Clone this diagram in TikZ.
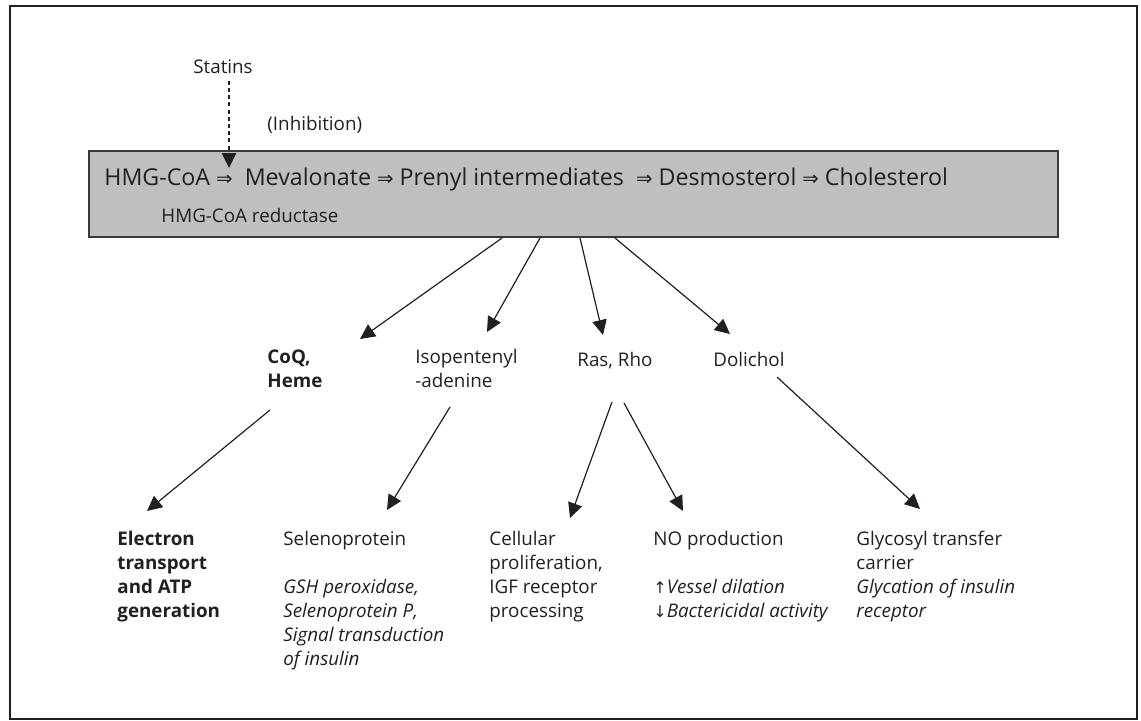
\documentclass[tikz,border=0pt]{standalone}
\usepackage{fontspec}
\setmainfont{Open Sans}
\newfontfamily\arrowfont{DejaVu Sans}[Scale=0.85]
\usepackage{tikz}
\usetikzlibrary{arrows.meta, calc}
\definecolor{ink}{HTML}{231F20}
\definecolor{boxgray}{HTML}{BEBFC1}
\definecolor{boxline}{HTML}{3A3A3A}

\newcommand{\yields}{{\arrowfont ⇒}}
\newcommand{\up}{{\arrowfont ↑}}
\newcommand{\down}{{\arrowfont ↓}}

\begin{document}
\begin{tikzpicture}[
    x=0.5pt, y=-0.5pt,
    pathway/.style={rectangle, draw=boxline, fill=boxgray, line width=1pt, minimum width=484.5pt, minimum height=43pt, inner sep=0pt},
    label/.style={anchor=north west, inner sep=0pt, text=ink, align=left, font=\fontsize{9.4}{12}\selectfont, execute at begin node=\strut},
    bigtext/.style={anchor=base west, inner sep=0pt, text=ink, font=\fontsize{11.6}{13}\selectfont},
    link/.style={-{Triangle[length=7.5pt, width=7.2pt]}, line width=0.6pt, draw=ink},
]

% Frame
\useasboundingbox (0,0) rectangle (1141,720);
\draw[ink, line width=0.6pt] (10,6) rectangle (1137,719);

% Pathway box
\node[pathway] (chain) at (573.5,194) {};
\node[bigtext] (steps) at (104,185) {HMG-CoA \yields{}\ \ Mevalonate \yields{} Prenyl intermediates\ \ \yields{} Desmosterol \yields{} Cholesterol};
\node[label] (reductase) at (161,205) {HMG-CoA reductase};

% Inhibitor (first baselines sit 16.8 units below the node tops)
\node[label] (statins) at (193,56) {Statins};
\node[label] (inhibition) at (267,113) {(Inhibition)};
\coordinate (block) at (229,168);
\draw[link, dash pattern=on 2pt off 1.6pt] (statins.south -| block) -- (block);

% Products
\node[label, font=\fontsize{9.4}{12}\selectfont\bfseries] (coq) at (267,349) {CoQ,\\Heme};
\node[label] (ipa) at (415,349) {Isopentenyl\\-adenine};
\node[label] (rasrho) at (577,349) {Ras, Rho};
\node[label] (dolichol) at (713,349) {Dolichol};

% Functions
\node[label, font=\fontsize{9.4}{12}\selectfont\bfseries] (electron) at (117,531) {Electron\\transport\\and ATP\\generation};
\node[label] (seleno) at (283,531) {Selenoprotein\\[12pt]\textit{GSH peroxidase,}\\\textit{Selenoprotein P,}\\\textit{Signal transduction}\\\textit{of insulin}};
\node[label] (prolif) at (489,531) {Cellular\\proliferation,\\IGF receptor\\processing};
\node[label] (noprod) at (653,531) {NO production\\[12pt]\up\textit{Vessel dilation}\\\down\textit{Bactericidal activity}};
\node[label] (glycosyl) at (856,531) {Glycosyl transfer\\carrier\\\textit{Glycation of insulin}\\\textit{receptor}};

% Arrow ends
\coordinate (coq in) at (360,339);
\coordinate (ipa in) at (487,332);
\coordinate (ras in) at (603,335);
\coordinate (dol in) at (730,334);
\coordinate (coq out) at (270,410);
\coordinate (ipa out) at (450,407);
\coordinate (ras out1) at (612,402);
\coordinate (ras out2) at (624,403);
\coordinate (dol out) at (777,377);
\coordinate (electron in) at (147,511);
\coordinate (seleno in) at (387,510);
\coordinate (prolif in) at (570,518);
\coordinate (noprod in) at (683,511);
\coordinate (glycosyl in) at (920,509);

% Branches
\draw[link] ($(chain.south)+(-71.5,0)$) -- (coq in);
\draw[link] ($(chain.south)+(-33.5,0)$) -- (ipa in);
\draw[link] ($(chain.south)+(6.5,0)$) -- (ras in);
\draw[link] ($(chain.south)+(41.5,0)$) -- (dol in);
\draw[link] (coq out) -- (electron in);
\draw[link] (ipa out) -- (seleno in);
\draw[link] (ras out1) -- (prolif in);
\draw[link] (ras out2) -- (noprod in);
\draw[link] (dol out) -- (glycosyl in);

\end{tikzpicture}
\end{document}
